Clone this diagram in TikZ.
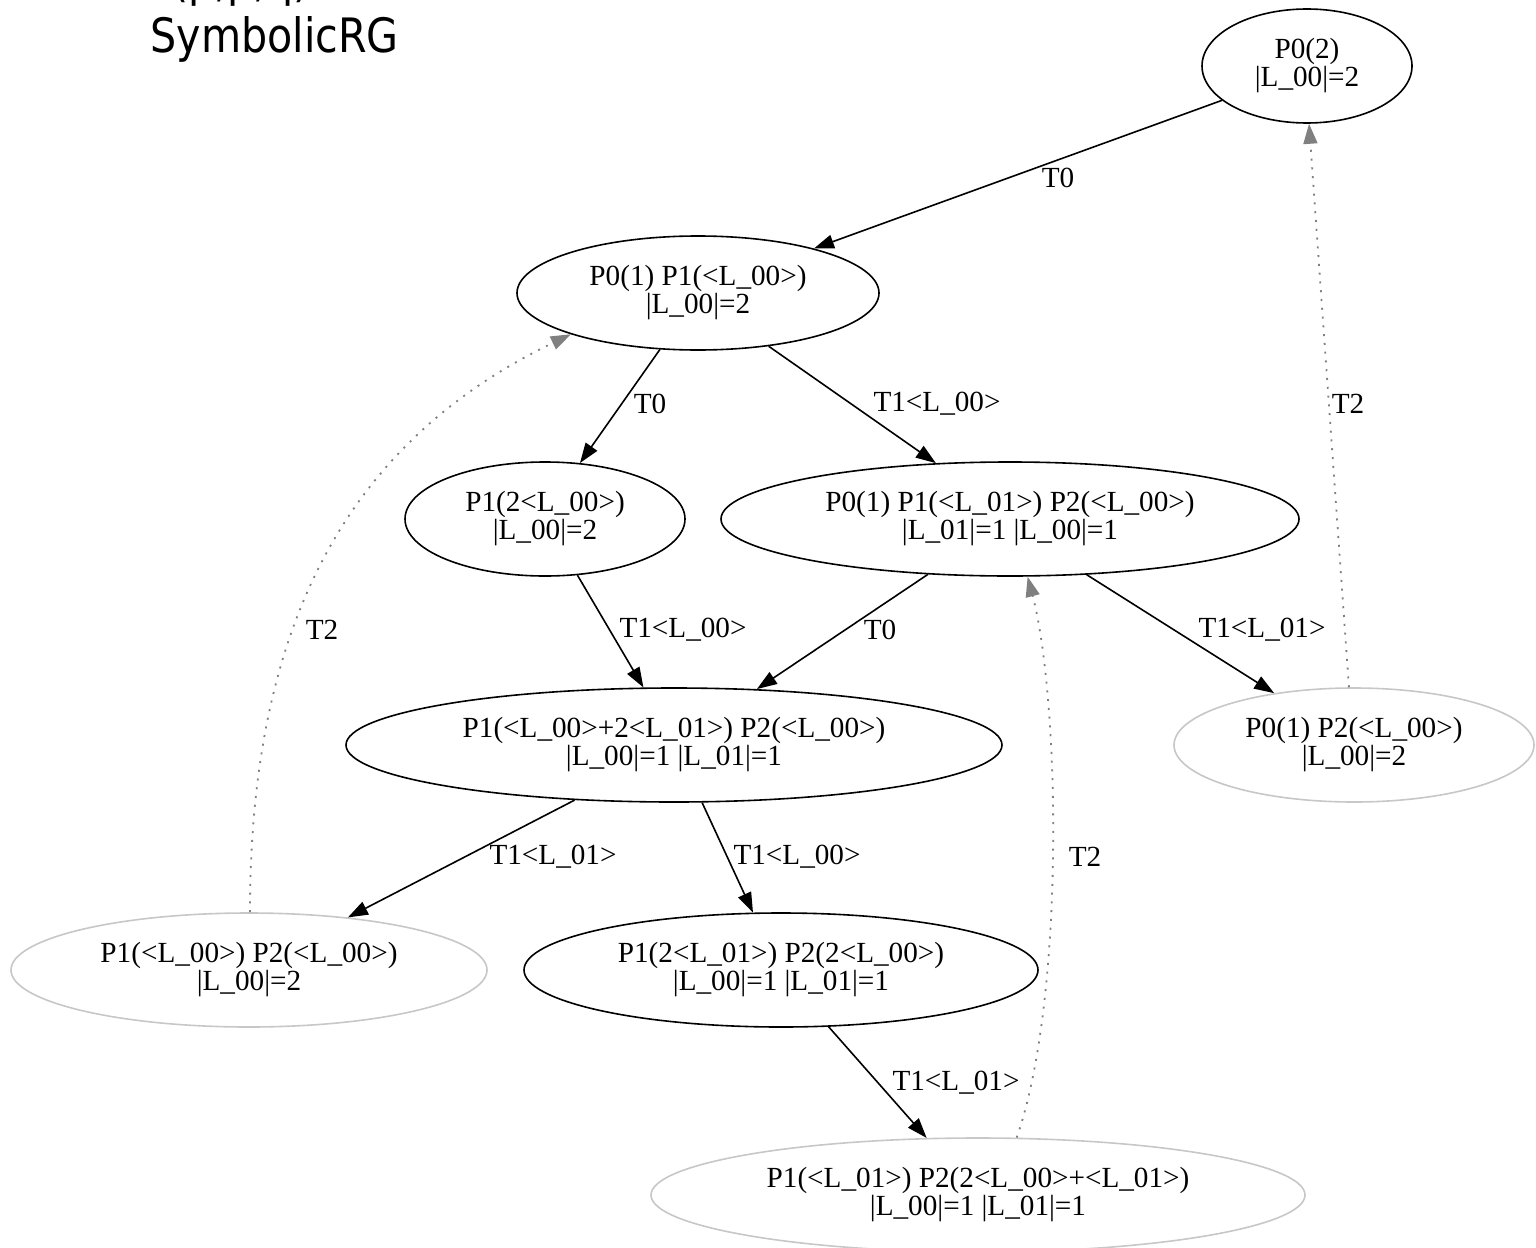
\documentclass[tikz,border=0pt]{standalone}
\usepackage{fontspec}
\setmainfont{Liberation Serif}
\newfontfamily\titlefont[FakeStretch=0.87]{DejaVu Sans}
\usetikzlibrary{arrows.meta,shapes.geometric}
\begin{document}
\begin{tikzpicture}[x=0.5pt,y=-0.5pt,
  st/.style={ellipse,draw=black,line width=0.8pt,inner sep=0pt,align=center,
             minimum height=57pt,font=\fontsize{14.6}{14}\selectfont},
  stgray/.style={st,draw=black!22},
  lbl/.style={inner sep=0pt,font=\fontsize{14.6}{14}\selectfont},
  tr/.style={draw=black,line width=0.8pt,-{Triangle[length=10pt,width=7pt]}},
  back/.style={draw=black!50,line width=0.9pt,dash pattern=on 1pt off 3.4pt,
               -{Triangle[length=10pt,width=7pt]}}]
\useasboundingbox (0,0) rectangle (1536,1247);
\begin{scope}
\clip (0,0) rectangle (1536,1247);
\node[anchor=base west,inner sep=0pt,font=\titlefont\fontsize{23.7}{27.5}\selectfont] (t0) at (172,-3) {(p,p,q)};
\node[anchor=base west,inner sep=0pt,font=\titlefont\fontsize{23.7}{27.5}\selectfont] (t1) at (150,53) {SymbolicRG};

\node[st,minimum width=105pt] (A) at (1307,66) {P0(2)\\|L\_00|=2};
\node[st,minimum width=181pt] (B) at (698,293) {P0(1) P1(<L\_00>)\\|L\_00|=2};
\node[st,minimum width=140pt] (C) at (545,519) {P1(2<L\_00>)\\|L\_00|=2};
\node[st,minimum width=289pt] (D) at (1010,519) {P0(1) P1(<L\_01>) P2(<L\_00>)\\|L\_01|=1 |L\_00|=1};
\node[st,minimum width=328pt] (E) at (674,745) {P1(<L\_00>+2<L\_01>) P2(<L\_00>)\\|L\_00|=1 |L\_01|=1};
\node[stgray,minimum width=180pt] (F) at (1354,745) {P0(1) P2(<L\_00>)\\|L\_00|=2};
\node[stgray,minimum width=238pt] (G) at (249,970) {P1(<L\_00>) P2(<L\_00>)\\|L\_00|=2};
\node[st,minimum width=257pt] (H) at (781,970) {P1(2<L\_01>) P2(2<L\_00>)\\|L\_00|=1 |L\_01|=1};
\node[stgray,minimum width=327pt] (I) at (978,1195) {P1(<L\_01>) P2(2<L\_00>+<L\_01>)\\|L\_00|=1 |L\_01|=1};

\draw[tr] (A.202) -- (B.21);
\draw[tr] (B.236) -- (C.58);
\draw[tr] (B.323) -- (D.143);
\draw[tr] (C.300.5) -- (E.118.5);
\draw[tr] (D.214.8) -- (E.34.7);
\draw[tr] (D.324) -- (F.147.6);
\draw[tr] (E.209) -- (G.28.2);
\draw[tr] (E.296) -- (H.116);
\draw[tr] (H.310) -- (I.132);
\draw[back] (F.95) -- (A.272);
\draw[back] (G.89) .. controls (250,650) and (330,450) .. (B.198);
\draw[back] (I.56.8) .. controls (1065,1000) and (1060,700) .. (D.287.5);

\node[lbl] (l1) at (1058,178) {T0};
\node[lbl] (l2) at (650,404) {T0};
\node[lbl] (l3) at (937,404) {T1<L\_00>};
\node[lbl] (l4) at (1348,404) {T2};
\node[lbl] (l5) at (322,630) {T2};
\node[lbl] (l6) at (683,630) {T1<L\_00>};
\node[lbl] (l7) at (880,630) {T0};
\node[lbl] (l8) at (1262,630) {T1<L\_01>};
\node[lbl] (l9) at (553,857) {T1<L\_01>};
\node[lbl] (l10) at (797,857) {T1<L\_00>};
\node[lbl] (l11) at (1085,857) {T2};
\node[lbl] (l12) at (956,1083) {T1<L\_01>};
\end{scope}
\end{tikzpicture}
\end{document}
